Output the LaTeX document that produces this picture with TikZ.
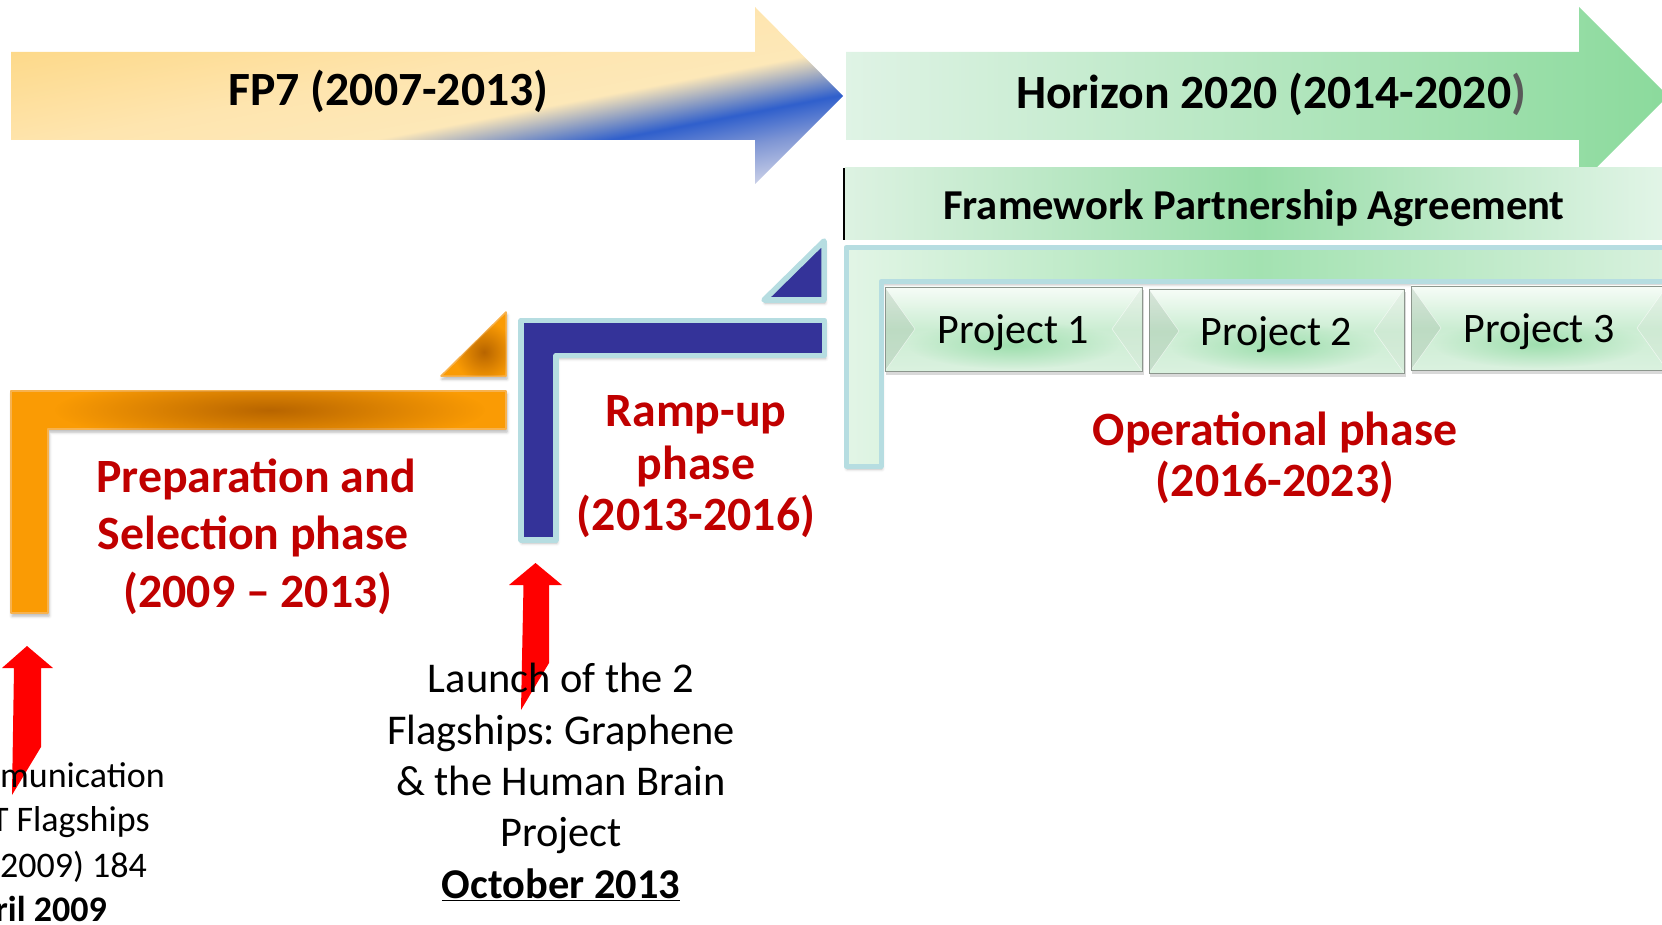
\documentclass[tikz,border=0pt]{standalone}
\usepackage{fontspec}
\setmainfont{Carlito}
\usetikzlibrary{shadows.blur,fadings}
\frenchspacing
\definecolor{darkred}{HTML}{C00000}
\definecolor{blueF}{HTML}{343399}
\definecolor{ltborder}{HTML}{B6DDE1}
\definecolor{orangeF}{HTML}{FA9B04}
\definecolor{orangeE}{HTML}{F7B24E}
\definecolor{orangeD}{HTML}{B86500}
\definecolor{hzL}{HTML}{DFF3E5}
\definecolor{hzR}{HTML}{8BDA9C}
\definecolor{fpaL}{HTML}{DDF2E2}
\definecolor{fpaM}{HTML}{98DDA8}
\definecolor{fpaR}{HTML}{E3F5E8}
\definecolor{gL}{HTML}{E2F5E6}
\definecolor{gM}{HTML}{A3E2B1}
\definecolor{gR}{HTML}{D8F1DE}
\definecolor{pTop}{HTML}{F6FCF7}
\definecolor{pMid}{HTML}{CBEDD2}
\definecolor{pBot}{HTML}{DAF1DF}
\definecolor{pGlow}{HTML}{9EDFAE}
\definecolor{pFacetL}{HTML}{A3BBA7}
\definecolor{pFacetR}{HTML}{D4E6D6}
\definecolor{pEdge}{HTML}{8C968D}
\definecolor{fpYa}{HTML}{FDD98A}
\definecolor{fpYb}{HTML}{FEE5AF}
\definecolor{fpYc}{HTML}{FDE8B8}
\definecolor{fpBa}{HTML}{2F5FCC}
\definecolor{fpBb}{HTML}{7F96D4}
\definecolor{fpBc}{HTML}{D2D6EA}
\definecolor{parengray}{HTML}{595959}
\tikzfading[name=glowfade, inner color=transparent!0, outer color=transparent!100]
\pgfdeclareverticalshading{fpshade}{100bp}{color(0bp)=(fpBc); color(40.8bp)=(fpBc); color(43.4bp)=(fpBb); color(45.3bp)=(fpBa); color(48.0bp)=(fpYc); color(51.5bp)=(fpYb); color(57.3bp)=(fpYa); color(100bp)=(fpYa)}
\tikzset{
  titletext/.style={font=\fontsize{47.7}{56}\selectfont\bfseries, anchor=base, inner sep=0pt},
  redtext/.style={font=\fontsize{47.8}{56}\selectfont\bfseries, text=darkred, anchor=base, inner sep=0pt},
  fpatext/.style={font=\fontsize{42.6}{50}\selectfont\bfseries, anchor=base, inner sep=0pt},
  projtext/.style={font=\fontsize{42}{50}\selectfont, anchor=base, inner sep=0pt},
  launchtext/.style={font=\fontsize{42.4}{50}\selectfont, anchor=base, inner sep=0pt},
  lefttext/.style={font=\fontsize{36}{44}\selectfont, anchor=base east, inner sep=0pt},
  lshadow/.style={blur shadow={shadow xshift=1pt, shadow yshift=-3pt, shadow blur radius=3pt, shadow opacity=30}},
  blueshape/.style={fill=blueF, draw=ltborder, line width=5.5pt, line join=round},
  orangeshape/.style={fill=orangeF, draw=orangeE, line width=1.5pt, line join=round},
  redarrow/.style={fill=red, draw=none},
}
\newcommand\projbox[6]{%
  \pgfmathsetmacro\pxm{(#2+#4)/2}%
  \pgfmathsetmacro\pym{(#3+#5)/2}%
  \pgfmathsetmacro\pxl{#2+30}%
  \pgfmathsetmacro\pxr{#4-30}%
  \fill[black, opacity=0.15] (#2+1,#3+3) rectangle (#4+2,#5+4);
  \shade[top color=pTop, bottom color=pBot, middle color=pMid] (#2,#3) rectangle (#4,#5);
  \fill[pGlow, path fading=glowfade] (\pxm,\pym+16) ellipse [x radius=105, y radius=24];
  \fill[pFacetL, opacity=0.35] (#2,#3) -- (\pxl,\pym) -- (#2,#5) -- cycle;
  \fill[pFacetR, opacity=0.4] (#4,#3) -- (\pxr,\pym) -- (#4,#5) -- cycle;
  \draw[white, opacity=0.6, line width=0.6pt] (#2,#3) -- (\pxl,\pym) -- (#2,#5);
  \draw[white, opacity=0.6, line width=0.6pt] (#4,#3) -- (\pxr,\pym) -- (#4,#5);
  \draw[pEdge, line width=0.9pt] (#2,#3) rectangle (#4,#5);
  \node[projtext] (#1) at (\pxm,#5-28) {#6};
}
\begin{document}
\begin{tikzpicture}[x=1pt,y=-1pt]
\useasboundingbox (0,0) rectangle (1662,925);
\clip (0,0) rectangle (1662,925);

% FP7 arrow
\begin{scope}
  \clip (11,52) -- (755,52) -- (755,7) -- (843,96) -- (755,184) -- (755,140) -- (11,140) -- cycle;
  \shade[shading=fpshade, shading angle=11] (7,-324.5) rectangle (847,515.5);
\end{scope}
\node[titletext] (fp7) at (388.5,105.5) {FP7 (2007-2013)};

% Horizon 2020 arrow
\shade[left color=hzL, right color=hzR] (846,52) -- (1579,52) -- (1579,7) -- (1668,96) -- (1579,185) -- (1579,140) -- (846,140) -- cycle;
\node[titletext] (h2020) at (1271,109) {Horizon 2020 (2014-2020\textcolor{parengray}{)}};

% Framework Partnership Agreement
\shade[left color=fpaL, right color=fpaR, middle color=fpaM] (845,168) rectangle (1670,240);
\draw[black, line width=1.8pt] (844,168) -- (844,240);
\node[fpatext] (fpa) at (1254,220) {Framework Partnership Agreement};

% Operational L
\path[lshadow] (846,247.5) -- (1672,247.5) -- (1672,281.5) -- (881,281.5) -- (881,466) -- (846,466) -- cycle;
\shade[left color=gL, right color=gR, middle color=gM] (846,247.5) -- (1672,247.5) -- (1672,281.5) -- (881,281.5) -- (881,466) -- (846,466) -- cycle;
\draw[ltborder, line width=5pt, line join=round] (846,247.5) -- (1672,247.5) -- (1672,281.5) -- (881,281.5) -- (881,466) -- (846,466) -- cycle;

% Projects
\projbox{p1}{885}{287}{1142}{371}{Project 1}
\projbox{p2}{1149}{289}{1404}{373}{Project 2}
\projbox{p3}{1411}{286}{1667}{370}{Project 3}

% Orange L and triangle
\path[lshadow] (11,391) -- (506,391) -- (506,429) -- (48,429) -- (48,613) -- (11,613) -- cycle;
\path[orangeshape] (11,391) -- (506,391) -- (506,429) -- (48,429) -- (48,613) -- (11,613) -- cycle;
\begin{scope}
  \clip (11,391) rectangle (506,429);
  \fill[orangeD, path fading=glowfade] (270,410) ellipse [x radius=215, y radius=34];
\end{scope}
\path[lshadow] (441,376) -- (506,376) -- (506,312) -- cycle;
\path[orangeshape] (441,376) -- (506,376) -- (506,312) -- cycle;
\begin{scope}
  \clip (441,376) -- (506,376) -- (506,312) -- cycle;
  \fill[orangeD, path fading=glowfade] (484,352) ellipse [x radius=30, y radius=30];
\end{scope}

% Blue L and triangle
\path[lshadow] (521,320.5) -- (824.5,320.5) -- (824.5,355.5) -- (556,355.5) -- (556,540) -- (521,540) -- cycle;
\path[blueshape] (521,320.5) -- (824.5,320.5) -- (824.5,355.5) -- (556,355.5) -- (556,540) -- (521,540) -- cycle;
\path[lshadow] (764,300) -- (824,300) -- (824,241) -- cycle;
\path[blueshape] (764,300) -- (824,300) -- (824,241) -- cycle;

% Red arrows
\fill[redarrow] (27,646) -- (53,668) -- (41,668) -- (41,747) -- (12,795) -- (14,668) -- (2,668) -- cycle;
\fill[redarrow] (535.5,563) -- (562,585) -- (549,585) -- (549,663) -- (521,710) -- (523.5,585) -- (509,585) -- cycle;

% Phase labels
\node[redtext] (prep1) at (256,492) {Preparation and};
\node[redtext] (prep2) at (253,549) {Selection phase};
\node[redtext] (prep3) at (258,607) {(2009 – 2013)};
\node[redtext] (ramp1) at (696,426) {Ramp-up};
\node[redtext] (ramp2) at (696,479) {phase};
\node[redtext] (ramp3) at (696,530) {(2013-2016)};
\node[redtext] (oper1) at (1275,445) {Operational phase};
\node[redtext] (oper2) at (1275,496) {(2016-2023)};

% Launch text
\node[launchtext] (la1) at (561,692) {Launch of the 2};
\node[launchtext] (la2) at (561,744) {Flagships: Graphene};
\node[launchtext] (la3) at (561,795) {\& the Human Brain};
\node[launchtext] (la4) at (561,846) {Project};
\node[launchtext] (la5) at (561,898) {\bfseries\underline{October 2013}};

% Communication text (cut at left edge, as in the reference)
\node[lefttext] (co1) at (165,787) {Communication};
\node[lefttext] (co2) at (150,831) {FET Flagships};
\node[lefttext] (co3) at (147,877) {COM(2009) 184};
\node[lefttext] (co4) at (107,921) {\bfseries\underline{April 2009}};
\end{tikzpicture}
\end{document}
